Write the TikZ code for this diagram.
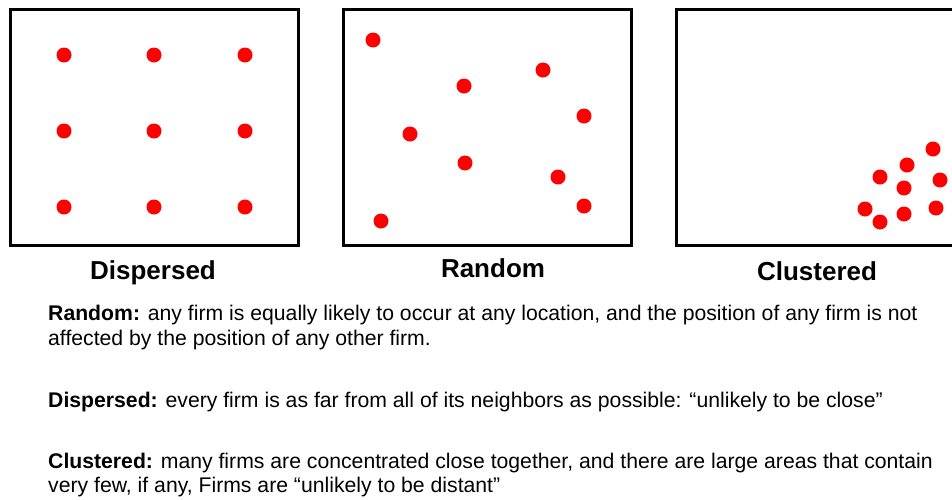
\documentclass[tikz,border=0pt]{standalone}
\usepackage{fontspec}
\setmainfont{Liberation Sans}
\begin{document}
\begin{tikzpicture}[x=1pt,y=-1pt,
  dot/.style={circle,fill=red,draw=none,minimum size=15pt,inner sep=0pt},
  panel/.style={draw=black,line width=3pt,fill=none},
  title/.style={font=\fontsize{26}{30}\selectfont\bfseries,anchor=base,inner sep=0pt},
  body/.style={font=\fontsize{21.2}{25}\selectfont,anchor=base west,inner sep=0pt}]
\clip (0,0) rectangle (952,499);
\fill[white] (0,0) rectangle (952,499);
% panels
\draw[panel] (10,9) rectangle (298,245);
\draw[panel] (343,9) rectangle (631,245);
\draw[panel] (676,9) rectangle (970,245);
% dispersed
\node[dot] (a1) at (64,55) {};
\node[dot] (a2) at (154,55) {};
\node[dot] (a3) at (245,55) {};
\node[dot] (a4) at (64,131) {};
\node[dot] (a5) at (154,131) {};
\node[dot] (a6) at (245,131) {};
\node[dot] (a7) at (64,207) {};
\node[dot] (a8) at (154,207) {};
\node[dot] (a9) at (245,207) {};
% random
\node[dot] (b1) at (373,40) {};
\node[dot] (b2) at (464,86) {};
\node[dot] (b3) at (543,70) {};
\node[dot] (b4) at (584,116) {};
\node[dot] (b5) at (410,134) {};
\node[dot] (b6) at (465,163) {};
\node[dot] (b7) at (558,177) {};
\node[dot] (b8) at (584,206) {};
\node[dot] (b9) at (381,221) {};
% clustered
\node[dot] (c1) at (933,149) {};
\node[dot] (c2) at (907,165) {};
\node[dot] (c3) at (880,177) {};
\node[dot] (c4) at (940,180) {};
\node[dot] (c5) at (904,188) {};
\node[dot] (c6) at (865,209) {};
\node[dot] (c7) at (936,208) {};
\node[dot] (c8) at (904,214) {};
\node[dot] (c9) at (880,222) {};
% titles
\node[title] (t1) at (153,279) {Dispersed};
\node[title] (t2) at (493,277) {Random};
\node[title] (t3) at (817,280) {Clustered};
% body text
\node[body] (l1) at (48,320) {\textbf{Random:} any firm is equally likely to occur at any location, and the position of any firm is not};
\node[body] (l2) at (48,345) {affected by the position of any other firm.};
\node[body] (l3) at (48,407) {\textbf{Dispersed:} every firm is as far from all of its neighbors as possible: “unlikely to be close”};
\node[body] (l4) at (48,468) {\textbf{Clustered:} many firms are concentrated close together, and there are large areas that contain};
\node[body] (l5) at (48,492) {very few, if any, Firms are “unlikely to be distant”};
\end{tikzpicture}
\end{document}
